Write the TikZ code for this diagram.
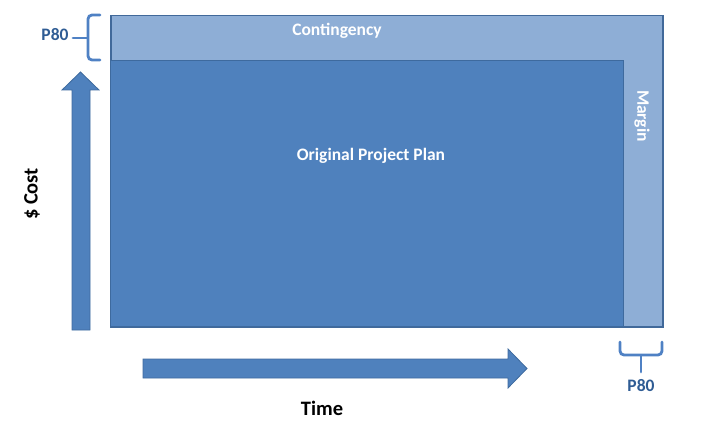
\documentclass[tikz,border=0pt]{standalone}
\usepackage{fontspec}
\setmainfont{Carlito}
\definecolor{planfill}{HTML}{4F81BD}
\definecolor{planline}{HTML}{3E6A9E}
\definecolor{lightfill}{HTML}{8EAED6}
\definecolor{lightline}{HTML}{41699A}
\definecolor{bracecol}{HTML}{4F81C4}
\definecolor{p80col}{HTML}{2F5C94}
\tikzset{
  arrowshape/.style={draw=planline, fill=planfill, line width=0.8pt},
  bracepath/.style={draw=bracecol, line width=2.8pt, rounded corners=4pt, line cap=round},
  whitelabel/.style={text=white, font=\bfseries\fontsize{17.5}{20}\selectfont, inner sep=0},
  axislabel/.style={text=black, font=\bfseries\fontsize{20.5}{24}\selectfont, inner sep=0},
  p80label/.style={text=p80col, font=\bfseries\fontsize{17.5}{20}\selectfont, inner sep=0}
}
\begin{document}
\begin{tikzpicture}[x=1pt,y=-1pt]
\useasboundingbox (0,0) rectangle (705,425);
% outer (contingency + margin)
\node[draw=lightline, fill=lightfill, line width=1.5pt, minimum width=552pt, minimum height=311pt, anchor=north west, inner sep=0] (outer) at (110,15) {};
% inner plan
\node[draw=planline, fill=planfill, line width=1pt, minimum width=513pt, minimum height=266pt, anchor=north west, inner sep=0] (plan) at (110,60) {};
\node[whitelabel] (contingency) at (337,31) {Contingency};
\node[whitelabel, rotate=-90] (margin) at (642,116) {Margin};
\node[whitelabel] (planlabel) at (371,156) {Original Project Plan};
% cost arrow
\draw[arrowshape] (72,330) -- (72,90) -- (62,90) -- (80.5,72) -- (99,90) -- (90,90) -- (90,330) -- cycle;
% time arrow
\draw[arrowshape] (143,359) -- (508,359) -- (508,349) -- (527,368.5) -- (508,388) -- (508,378) -- (143,378) -- cycle;
\node[axislabel, rotate=90] (cost) at (32,194) {\$ Cost};
\node[axislabel] (time) at (322,408) {Time};
% left brace
\draw[bracepath] (100,15) -- (88,15) -- (88,38) -- (88,60) -- (100,60);
\draw[bracepath, rounded corners=0] (73,38) -- (87,38);
\node[p80label] (p80a) at (55,35) {P80};
% bottom brace
\draw[bracepath] (620,342) -- (620,355) -- (641,355) -- (662,355) -- (662,342);
\draw[bracepath, rounded corners=0] (641,356) -- (641,372);
\node[p80label] (p80b) at (641,386) {P80};
\end{tikzpicture}
\end{document}
